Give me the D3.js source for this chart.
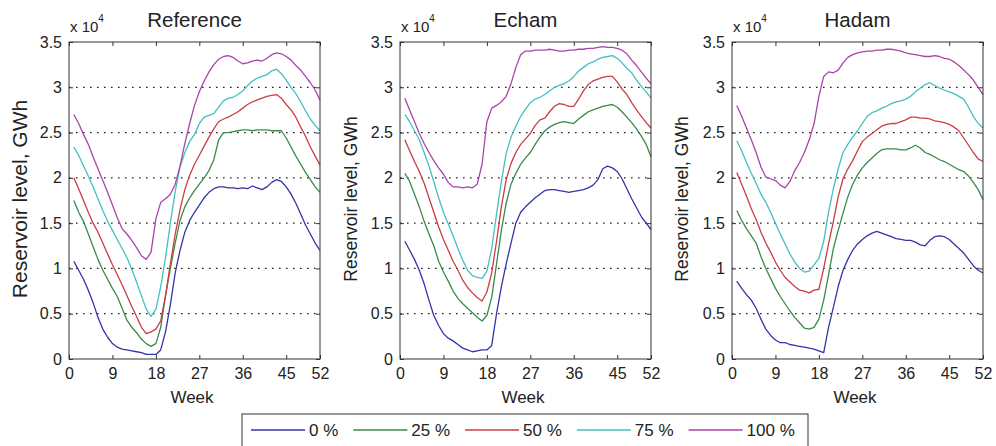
<html>
  <head>
    <script src="https://cdn.jsdelivr.net/npm/d3@7"></script>
  </head>
  <body style="margin:0;background:#ffffff;">
    <script>
      // weeks of the year (x values of every series)
      var weeks = [1,2,3,4,5,6,7,8,9,10,11,12,13,14,15,16,17,18,19,20,21,22,23,24,25,26,
                   27,28,29,30,31,32,33,34,35,36,37,38,39,40,41,42,43,44,45,46,47,48,49,50,51,52];

      var x_ticks = [0, 9, 18, 27, 36, 45, 52];
      var y_ticks = [0, 0.5, 1, 1.5, 2, 2.5, 3, 3.5];
      var grid_ticks = [0.5, 1, 1.5, 2, 2.5, 3];
      var legend_labels = ["0 %", "25 %", "50 %", "75 %", "100 %"];
      var titles = ["Reference", "Echam", "Hadam"];

      // reservoir level, x 10^4 GWh
      var ref0 = [1.08,0.98,0.88,0.76,0.62,0.46,0.33,0.24,0.17,0.13,0.11,0.10,0.09,0.08,0.07,0.05,0.05,0.05,0.10,0.30,
                  0.60,0.95,1.20,1.40,1.53,1.62,1.70,1.78,1.84,1.88,1.90,1.90,1.89,1.89,1.88,1.89,1.88,1.91,1.89,1.87,
                  1.90,1.95,1.98,1.96,1.90,1.82,1.72,1.60,1.48,1.38,1.28,1.20];
      var ref25 = [1.75,1.62,1.52,1.38,1.24,1.10,0.98,0.88,0.78,0.69,0.56,0.43,0.35,0.29,0.22,0.17,0.14,0.17,0.35,0.70,
                   1.00,1.28,1.53,1.68,1.78,1.86,1.93,2.00,2.08,2.20,2.42,2.50,2.50,2.51,2.52,2.53,2.53,2.52,2.53,2.53,
                   2.53,2.52,2.52,2.52,2.44,2.34,2.24,2.15,2.06,1.98,1.90,1.84];
      var ref50 = [2.00,1.88,1.75,1.62,1.50,1.40,1.28,1.16,1.04,0.93,0.82,0.70,0.58,0.47,0.35,0.28,0.30,0.33,0.42,0.70,
                   1.05,1.38,1.65,1.87,2.03,2.15,2.25,2.35,2.45,2.54,2.62,2.65,2.67,2.70,2.73,2.77,2.81,2.84,2.86,2.88,
                   2.90,2.91,2.92,2.88,2.81,2.75,2.67,2.56,2.46,2.34,2.24,2.14];
      var ref75 = [2.34,2.25,2.13,2.02,1.90,1.77,1.64,1.52,1.42,1.32,1.22,1.12,0.99,0.85,0.70,0.55,0.47,0.55,0.80,1.12,
                   1.50,1.85,2.12,2.28,2.40,2.48,2.60,2.67,2.69,2.71,2.78,2.85,2.88,2.89,2.92,2.96,3.02,3.07,3.10,3.12,
                   3.14,3.18,3.20,3.15,3.08,3.00,2.93,2.84,2.74,2.65,2.58,2.52];
      var ref100 = [2.70,2.60,2.48,2.37,2.23,2.10,1.97,1.84,1.70,1.56,1.44,1.38,1.31,1.23,1.14,1.10,1.18,1.55,1.73,1.77,
                    1.82,1.93,2.13,2.38,2.60,2.80,2.95,3.07,3.17,3.25,3.31,3.34,3.35,3.33,3.29,3.26,3.27,3.29,3.30,3.29,
                    3.32,3.36,3.38,3.37,3.34,3.30,3.24,3.19,3.12,3.05,2.97,2.86];

      var echam0 = [1.30,1.20,1.10,0.98,0.83,0.65,0.48,0.37,0.28,0.23,0.20,0.16,0.12,0.10,0.08,0.09,0.10,0.10,0.15,0.50,
                    0.80,1.05,1.28,1.50,1.62,1.68,1.73,1.78,1.82,1.86,1.87,1.87,1.86,1.85,1.84,1.85,1.86,1.87,1.89,1.92,
                    1.98,2.10,2.13,2.11,2.07,1.99,1.88,1.77,1.67,1.57,1.50,1.43];
      var echam25 = [2.05,1.96,1.82,1.68,1.52,1.38,1.25,1.08,0.96,0.86,0.75,0.67,0.61,0.56,0.51,0.46,0.42,0.48,0.68,1.05,
                     1.42,1.72,1.93,2.05,2.15,2.22,2.28,2.37,2.45,2.52,2.56,2.59,2.61,2.62,2.61,2.60,2.65,2.69,2.73,2.75,
                     2.77,2.79,2.80,2.81,2.78,2.73,2.67,2.61,2.54,2.46,2.37,2.23];
      var echam50 = [2.42,2.30,2.18,2.07,1.94,1.78,1.62,1.46,1.32,1.20,1.08,0.98,0.87,0.79,0.73,0.68,0.64,0.74,0.95,1.30,
                     1.68,1.98,2.16,2.28,2.37,2.43,2.49,2.58,2.64,2.66,2.73,2.79,2.82,2.81,2.79,2.79,2.87,2.96,3.03,3.07,
                     3.09,3.11,3.12,3.12,3.06,2.98,2.92,2.83,2.75,2.68,2.61,2.55];
      var echam75 = [2.70,2.62,2.52,2.42,2.28,2.13,1.96,1.78,1.62,1.49,1.36,1.22,1.09,0.98,0.92,0.90,0.89,0.97,1.22,1.60,
                     1.96,2.27,2.45,2.57,2.68,2.76,2.83,2.87,2.89,2.92,2.96,3.00,3.02,3.04,3.07,3.12,3.18,3.22,3.26,3.28,
                     3.31,3.33,3.34,3.35,3.32,3.27,3.21,3.16,3.08,3.01,2.95,2.88];
      var echam100 = [2.88,2.75,2.62,2.49,2.38,2.28,2.19,2.11,2.04,1.95,1.90,1.90,1.89,1.90,1.89,1.93,2.15,2.62,2.77,2.80,
                      2.84,2.90,3.04,3.22,3.36,3.40,3.40,3.41,3.41,3.41,3.42,3.41,3.40,3.40,3.41,3.41,3.42,3.42,3.43,3.43,
                      3.44,3.45,3.44,3.44,3.43,3.41,3.37,3.30,3.24,3.17,3.10,3.04];

      var hadam0 = [0.86,0.78,0.71,0.65,0.56,0.44,0.33,0.26,0.21,0.18,0.18,0.16,0.15,0.14,0.13,0.12,0.11,0.09,0.07,0.35,
                    0.57,0.80,0.98,1.10,1.20,1.27,1.32,1.36,1.39,1.41,1.39,1.37,1.35,1.33,1.32,1.31,1.31,1.29,1.26,1.25,
                    1.31,1.35,1.36,1.35,1.32,1.27,1.22,1.17,1.10,1.03,0.98,0.95];
      var hadam25 = [1.64,1.53,1.44,1.36,1.28,1.13,1.00,0.89,0.78,0.69,0.61,0.53,0.46,0.40,0.34,0.33,0.35,0.44,0.65,0.93,
                     1.22,1.42,1.61,1.79,1.93,2.03,2.11,2.17,2.22,2.27,2.31,2.32,2.32,2.32,2.31,2.31,2.33,2.36,2.33,2.28,
                     2.26,2.23,2.20,2.18,2.15,2.12,2.09,2.07,2.02,1.95,1.87,1.76];
      var hadam50 = [2.06,1.93,1.80,1.66,1.54,1.40,1.28,1.18,1.07,0.98,0.90,0.85,0.80,0.76,0.75,0.73,0.76,0.77,1.00,1.27,
                     1.52,1.79,1.99,2.10,2.19,2.30,2.40,2.45,2.49,2.53,2.57,2.59,2.60,2.60,2.62,2.64,2.67,2.67,2.66,2.66,
                     2.65,2.63,2.62,2.61,2.59,2.56,2.52,2.44,2.36,2.28,2.21,2.18];
      var hadam75 = [2.41,2.30,2.17,2.05,1.94,1.82,1.73,1.62,1.50,1.38,1.27,1.16,1.07,1.00,0.96,0.97,1.04,1.11,1.30,1.62,
                     1.88,2.10,2.28,2.37,2.45,2.52,2.60,2.68,2.72,2.74,2.77,2.79,2.82,2.84,2.85,2.87,2.90,2.95,2.99,3.03,
                     3.05,3.02,2.99,2.97,2.95,2.93,2.90,2.87,2.78,2.68,2.60,2.55];
      var hadam100 = [2.80,2.68,2.55,2.42,2.28,2.12,2.01,1.99,1.97,1.92,1.89,1.96,2.08,2.17,2.28,2.42,2.60,2.90,3.12,3.17,
                      3.16,3.19,3.27,3.33,3.36,3.38,3.39,3.40,3.40,3.41,3.41,3.42,3.42,3.41,3.40,3.38,3.37,3.36,3.35,3.34,
                      3.34,3.35,3.34,3.32,3.31,3.28,3.24,3.19,3.14,3.08,3.00,2.92];

      var colors = ["#3434a8", "#3a8a48", "#cc3c44", "#44c0c0", "#aa44aa"];

      var w = 996;
      var h = 446;
      var plot_top = 42;
      var plot_w = 251;
      var plot_h = 317;
      var font = "'Liberation Sans', Arial, Helvetica, sans-serif";

      var panels = [
        {title: titles[0], left: 69,  series: [ref0, ref25, ref50, ref75, ref100], ylab_x: 27, ylab_size: 21},
        {title: titles[1], left: 400, series: [echam0, echam25, echam50, echam75, echam100], ylab_x: 357, ylab_size: 17.5},
        {title: titles[2], left: 732, series: [hadam0, hadam25, hadam50, hadam75, hadam100], ylab_x: 688, ylab_size: 17.5}
      ];

      var svg = d3.select("body")
      .append("svg")
      .attr("width", w)
      .attr("height", h)
      .style("font-family", font)
      .style("background", "#ffffff");

      var x = d3.scaleLinear().domain([0, 52]).range([0, plot_w]);
      var y = d3.scaleLinear().domain([0, 3.5]).range([plot_h, 0]);

      panels.forEach(function(p) {
        var g = svg.append("g").attr("transform", "translate(" + p.left + "," + plot_top + ")");

        // dotted grid
        g.selectAll(".grid")
        .data(grid_ticks)
        .enter()
        .append("line")
        .attr("class", "grid")
        .attr("x1", 0)
        .attr("x2", plot_w)
        .attr("y1", function(d){return y(d);})
        .attr("y2", function(d){return y(d);})
        .attr("stroke", "#222")
        .attr("stroke-width", 1.3)
        .attr("stroke-dasharray", "1.6,5.4");

        // series
        var line = d3.line()
        .x(function(d, i){return x(weeks[i]);})
        .y(function(d){return y(d);});

        g.selectAll(".series")
        .data(p.series)
        .enter()
        .append("path")
        .attr("class", "series")
        .attr("d", line)
        .attr("fill", "none")
        .attr("stroke", function(d, i){return colors[i];})
        .attr("stroke-width", 1.3)
        .attr("stroke-linejoin", "round");

        // axes, ticks pointing inwards
        var xb = g.append("g").attr("transform", "translate(0," + plot_h + ")")
        .call(d3.axisBottom(x).tickValues(x_ticks).tickSizeInner(-4).tickSizeOuter(0).tickPadding(9).tickFormat(d3.format("d")));
        var xt = g.append("g")
        .call(d3.axisTop(x).tickValues(x_ticks).tickSizeInner(-4).tickSizeOuter(0).tickFormat(""));
        var yl = g.append("g")
        .call(d3.axisLeft(y).tickValues(y_ticks).tickSizeInner(-4).tickSizeOuter(0).tickPadding(7).tickFormat(function(d){return d;}));
        var yr = g.append("g").attr("transform", "translate(" + plot_w + ",0)")
        .call(d3.axisRight(y).tickValues(y_ticks).tickSizeInner(-4).tickSizeOuter(0).tickFormat(""));

        [xb, xt, yl, yr].forEach(function(a) {
          a.select(".domain").remove();
          a.selectAll(".tick line").attr("stroke", "#333");
          a.selectAll("text").attr("font-family", font).attr("font-size", 16).attr("fill", "#222");
        });

        g.append("rect")
        .attr("x", 0)
        .attr("y", 0)
        .attr("width", plot_w)
        .attr("height", plot_h)
        .attr("fill", "none")
        .attr("stroke", "#333")
        .attr("stroke-width", 1);

        // title
        svg.append("text")
        .attr("x", p.left + plot_w / 2)
        .attr("y", 27)
        .attr("text-anchor", "middle")
        .attr("font-size", 20.5)
        .attr("fill", "#222")
        .text(p.title);

        // exponent label
        var ex = svg.append("text")
        .attr("x", p.left + 1)
        .attr("y", 32)
        .attr("font-size", 15)
        .attr("fill", "#222");
        ex.append("tspan").text("x 10");
        ex.append("tspan").attr("dy", -10).attr("font-size", 10).text("4");

        // x label
        svg.append("text")
        .attr("x", p.left + 123)
        .attr("y", 403)
        .attr("text-anchor", "middle")
        .attr("font-size", 17)
        .attr("fill", "#222")
        .text("Week");

        // y label
        svg.append("text")
        .attr("transform", "translate(" + p.ylab_x + ",199) rotate(-90)")
        .attr("text-anchor", "middle")
        .attr("font-size", p.ylab_size)
        .attr("fill", "#222")
        .text("Reservoir level, GWh");
      });

      // legend
      var legend = svg.append("g");
      legend.append("rect")
      .attr("x", 242)
      .attr("y", 414)
      .attr("width", 566)
      .attr("height", 40)
      .attr("fill", "#ffffff")
      .attr("stroke", "#333")
      .attr("stroke-width", 1);

      var lx = 251;
      legend_labels.forEach(function(lab, i) {
        legend.append("line")
        .attr("x1", lx)
        .attr("x2", lx + 54)
        .attr("y1", 430)
        .attr("y2", 430)
        .attr("stroke", colors[i])
        .attr("stroke-width", 1.5);
        var t = legend.append("text")
        .attr("x", lx + 58)
        .attr("y", 436)
        .attr("font-size", 17)
        .attr("fill", "#222")
        .text(lab);
        lx = lx + 58 + t.node().getComputedTextLength() + 15;
      });
    </script>
  </body>
</html>
